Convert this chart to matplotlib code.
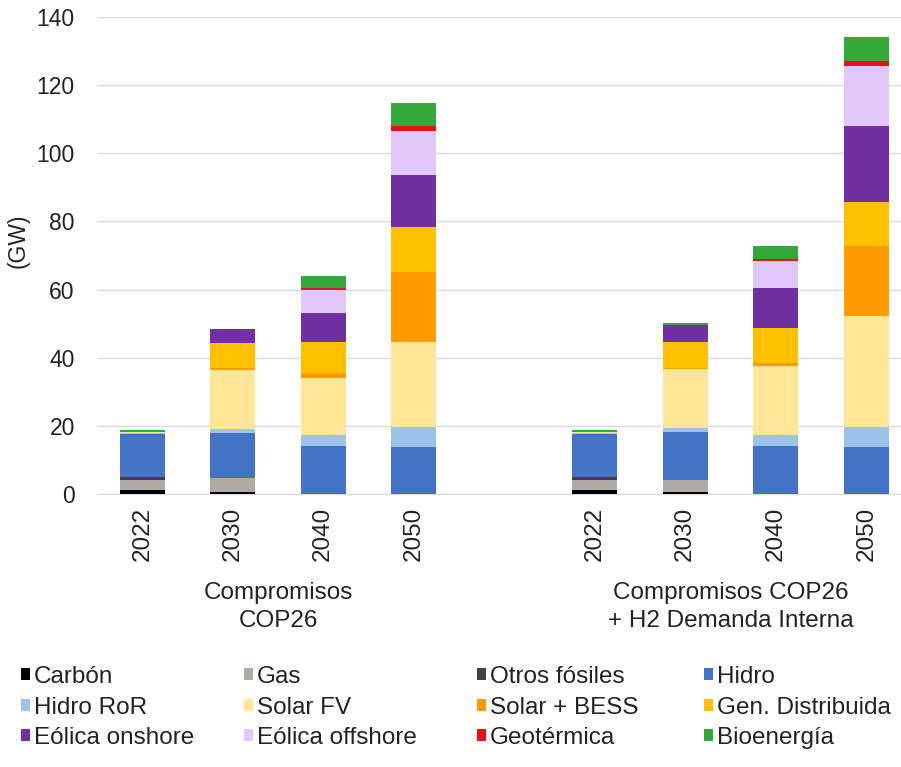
import matplotlib
matplotlib.use("Agg")
import matplotlib.pyplot as plt
from matplotlib.patches import Patch
from matplotlib.transforms import blended_transform_factory
import numpy as np

plt.rcParams['font.family'] = ['Liberation Sans', 'DejaVu Sans']

years = ["2022", "2030", "2040", "2050"]
scenarios = ["Compromisos\nCOP26", "Compromisos COP26\n+ H2 Demanda Interna"]

technologies = ["Carbón", "Gas", "Otros fósiles", "Hidro",
                "Hidro RoR", "Solar FV", "Solar + BESS", "Gen. Distribuida",
                "Eólica onshore", "Eólica offshore", "Geotérmica", "Bioenergía"]

colors = ["#000000", "#AFAAA5", "#404040", "#4472C4",
          "#9DC3E6", "#FFE699", "#FF9A00", "#FFC000",
          "#7030A0", "#E0C8FA", "#E8101A", "#35A83B"]

# values (GW): first 4 = Compromisos COP26, last 4 = + H2 Demanda Interna
carbon      = [1.2, 0.7, 0.0, 0.0,   1.2, 0.7, 0.0, 0.0]
gas         = [2.9, 3.9, 0.0, 0.0,   2.9, 3.4, 0.0, 0.0]
otros       = [1.0, 0.0, 0.0, 0.0,   1.0, 0.0, 0.0, 0.0]
hidro       = [12.4, 13.4, 14.1, 13.8, 12.4, 14.2, 14.1, 13.8]
hidro_ror   = [0.5, 1.0, 3.2, 5.9,   0.5, 1.0, 3.2, 5.9]
solar_fv    = [0.3, 17.4, 16.7, 24.9, 0.3, 17.3, 20.3, 32.5]
solar_bess  = [0.0, 0.6, 1.5, 20.6,  0.0, 0.5, 0.8, 20.6]
gen_dist    = [0.0, 7.2, 9.1, 13.2,  0.0, 7.6, 10.3, 12.9]
eol_on      = [0.0, 4.1, 8.5, 15.2,  0.0, 4.9, 11.8, 22.3]
eol_off     = [0.0, 0.0, 6.8, 12.9,  0.0, 0.0, 7.9, 17.6]
geotermica  = [0.0, 0.0, 0.6, 1.5,   0.0, 0.0, 0.6, 1.5]
bioenergia  = [0.5, 0.0, 3.5, 6.8,   0.5, 0.7, 3.8, 7.0]

series = [carbon, gas, otros, hidro, hidro_ror, solar_fv, solar_bess,
          gen_dist, eol_on, eol_off, geotermica, bioenergia]

W, H = 901, 767
FS = 17.5
TXT = '#222222'
fig = plt.figure(figsize=(W / 100, H / 100), dpi=100)
ax_left, ax_right, ax_top, ax_bot = 97, 901, 17, 494
ax = fig.add_axes([ax_left / W, (H - ax_bot) / H,
                   (ax_right - ax_left) / W, (ax_bot - ax_top) / H])

x = np.array([0, 1, 2, 3, 5, 6, 7, 8], dtype=float)
bottom = np.zeros(len(x))
for vals, col, name in zip(series, colors, technologies):
    v = np.array(vals)
    ax.bar(x, v, width=0.5, bottom=bottom, color=col, label=name,
           linewidth=0, zorder=3)
    bottom += v

ax.set_ylim(0, 140)
ax.set_yticks(np.arange(0, 141, 20))
ax.set_xlim(-0.5, -0.5 + (ax_right - ax_left) / 90.5)
ax.set_xticks(x)
ax.set_xticklabels(years * 2, rotation=90)
ax.tick_params(axis='x', length=0, pad=9, labelsize=FS, colors=TXT)
ax.tick_params(axis='y', length=0, pad=16, labelsize=16.5, colors=TXT)
ax.grid(axis='y', color='#D9D9D9', linewidth=1, zorder=0)
for s in ['top', 'right', 'left']:
    ax.spines[s].set_visible(False)
ax.spines['bottom'].set_color('#D9D9D9')
ax.set_axisbelow(True)

ax.set_ylabel("(GW)", fontsize=16.5, color=TXT)
ax.yaxis.set_label_coords(-(ax_left - 30) / (ax_right - ax_left), 0.53)

trans = blended_transform_factory(ax.transData, ax.transAxes)
for cx, lab in zip([1.5, 6.5], scenarios):
    ax.text(cx, -(607 - ax_bot) / (ax_bot - ax_top), lab, transform=trans,
            ha='center', va='center', fontsize=FS, color=TXT, linespacing=1.3)

# legend: 4 columns laid out like the original
col_x = [21, 244, 477, 704]
handles = [Patch(facecolor=c, edgecolor='none') for c in colors]
for ci in range(4):
    idx = [ci, ci + 4, ci + 8]
    leg = fig.legend([handles[i] for i in idx], [technologies[i] for i in idx],
                     loc='upper left',
                     bbox_to_anchor=(col_x[ci] / W, 1 - 666 / H),
                     frameon=False, fontsize=FS, ncol=1,
                     handlelength=0.38, handleheight=0.38, handletextpad=0.15,
                     labelspacing=0.35, borderpad=0, borderaxespad=0)
    for t in leg.get_texts():
        t.set_color(TXT)

fig.savefig("out.png", dpi=100, facecolor='white')
